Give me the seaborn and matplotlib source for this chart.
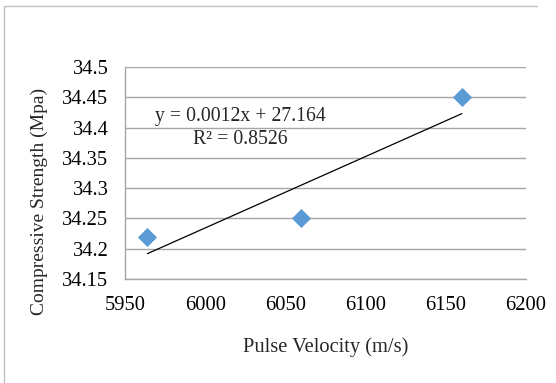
import numpy as np
import pandas as pd
import seaborn as sns
from matplotlib import pyplot as plt
from matplotlib.lines import Line2D

# values
pulse_velocity = [5964, 6060, 6160]
compressive_strength = [34.22, 34.25, 34.45]
x_ticks = [5950, 6000, 6050, 6100, 6150, 6200]
y_ticks = [34.15, 34.2, 34.25, 34.3, 34.35, 34.4, 34.45, 34.5]
equation_text = "y = 0.0012x + 27.164\nR² = 0.8526"

df = pd.DataFrame({"velocity": pulse_velocity, "strength": compressive_strength})

sns.set_style("white")
plt.rcParams["font.family"] = ["Liberation Serif", "DejaVu Serif"]

grid_col = "#a6a6a6"
fs = 14.8
fig = plt.figure(figsize=(5.56, 3.83), dpi=100)
ax = fig.add_axes([0.2248, 0.2715, 0.9460 - 0.2248, 0.825 - 0.2715])

sns.regplot(data=df, x="velocity", y="strength", ax=ax, ci=None,
            marker="D",
            scatter_kws={"s": 95, "color": "#5b9bd5", "alpha": 1,
                         "linewidths": 0, "zorder": 3},
            line_kws={"color": "black", "linewidth": 0.9, "zorder": 4})

ax.set_xlim(x_ticks[0], x_ticks[-1])
ax.set_ylim(y_ticks[0], y_ticks[-1])
ax.set_xticks(x_ticks)
ax.set_yticks(y_ticks)
ax.set_xticklabels([str(t) for t in x_ticks])
ax.set_yticklabels([f"{t:g}" for t in y_ticks])
ax.tick_params(axis="both", length=0, labelsize=fs, colors="black")
ax.tick_params(axis="x", pad=12)
ax.tick_params(axis="y", pad=12)

ax.yaxis.grid(True, color=grid_col, linewidth=1.0)
ax.xaxis.grid(False)
ax.set_axisbelow(True)
for side in ["top", "right"]:
    ax.spines[side].set_visible(False)
for side in ["left", "bottom"]:
    ax.spines[side].set_color(grid_col)
    ax.spines[side].set_linewidth(1.0)

ax.set_xlabel("Pulse Velocity (m/s)", fontsize=fs, labelpad=16)
ax.set_ylabel("Compressive Strength (Mpa)", fontsize=14.0)
ax.yaxis.set_label_coords(-0.192, 0.368)

ax.text(6022, 34.399, equation_text, ha="center", va="center",
        fontsize=14.2, linespacing=1.3)

# outer chart border (visible on top and left only)
fig.add_artist(Line2D([4 / 556, 4 / 556], [0, 1 - 6 / 383],
                      transform=fig.transFigure, color="#bfbfbf", linewidth=1.0))
fig.add_artist(Line2D([4 / 556, 537 / 556], [1 - 6 / 383, 1 - 6 / 383],
                      transform=fig.transFigure, color="#bfbfbf", linewidth=1.0))

fig.savefig("out.png", dpi=100)
